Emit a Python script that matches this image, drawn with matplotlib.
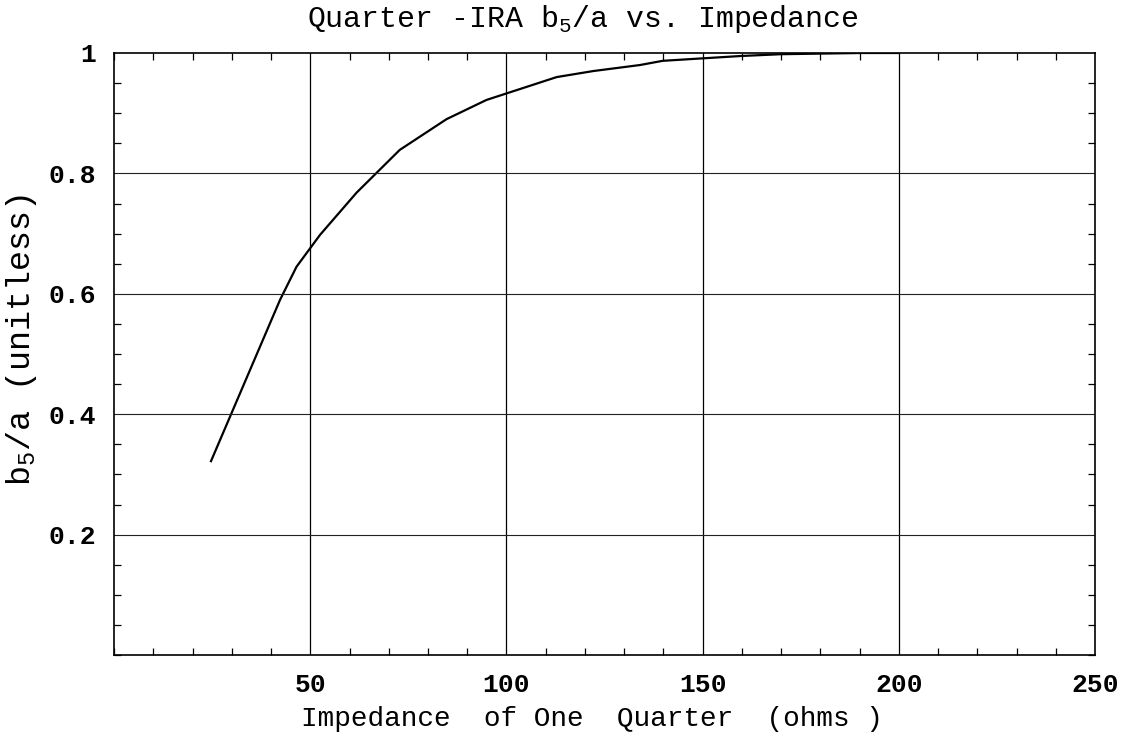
import numpy as np
import matplotlib
matplotlib.use("Agg")
import matplotlib.pyplot as plt
from matplotlib.ticker import MultipleLocator

# impedance of one quarter (ohms) vs b5/a
impedance = [24.7, 42.3, 46.5, 52.5, 61.8, 72.8, 84.7, 94.9, 112.8, 122.1,
             134.0, 139.8, 159.7, 170.0, 190.5, 200.0]
b5_over_a = [0.322, 0.590, 0.645, 0.698, 0.768, 0.839, 0.890, 0.922, 0.960, 0.970,
             0.980, 0.987, 0.995, 0.998, 1.000, 1.000]

x_ticks = [50, 100, 150, 200, 250]
y_ticks = [0.2, 0.4, 0.6, 0.8, 1.0]
y_labels = ["0.2", "0.4", "0.6", "0.8", "1"]

plt.rcParams['font.family'] = ['Liberation Mono', 'DejaVu Sans Mono']
plt.rcParams['mathtext.fontset'] = 'custom'
plt.rcParams['mathtext.rm'] = 'Liberation Mono'

fig = plt.figure(figsize=(11.27, 7.35), dpi=100)
ax = fig.add_axes([0.1012, 0.1088, 0.8705, 0.8191])

ax.plot(impedance, b5_over_a, color='black', lw=1.6)

ax.set_xlim(0, 250)
ax.set_ylim(0, 1)
ax.set_xticks(x_ticks)
ax.set_xticklabels([str(v) for v in x_ticks], fontweight='bold')
ax.set_yticks(y_ticks)
ax.set_yticklabels(y_labels, fontweight='bold')
ax.xaxis.set_minor_locator(MultipleLocator(10))
ax.yaxis.set_minor_locator(MultipleLocator(0.05))

ax.tick_params(which='both', direction='in', top=True, right=True, width=0.9, color='black')
ax.tick_params(which='major', length=0, labelsize=19, pad=13)
ax.tick_params(which='minor', length=5)

for v in x_ticks[:-1]:
    ax.axvline(v, color='black', lw=0.9)
for v in y_ticks[:-1]:
    ax.axhline(v, color='#222222', lw=0.8)

for s in ax.spines.values():
    s.set_linewidth(1.2)

ttl = ax.set_title(r'Quarter -IRA b$_{\mathregular{5}}$/a vs. Impedance', fontsize=21.5, pad=19)
ttl.set_x(0.478)
ax.set_xlabel('Impedance  of One  Quarter  (ohms )', fontsize=20)
ax.set_ylabel(r'b$_{\mathregular{5}}$/a (unitless)', fontsize=24)
ax.xaxis.set_label_coords(0.487, -0.085)
ax.yaxis.set_label_coords(-0.077, 0.523)

fig.savefig('out.png', dpi=100)
